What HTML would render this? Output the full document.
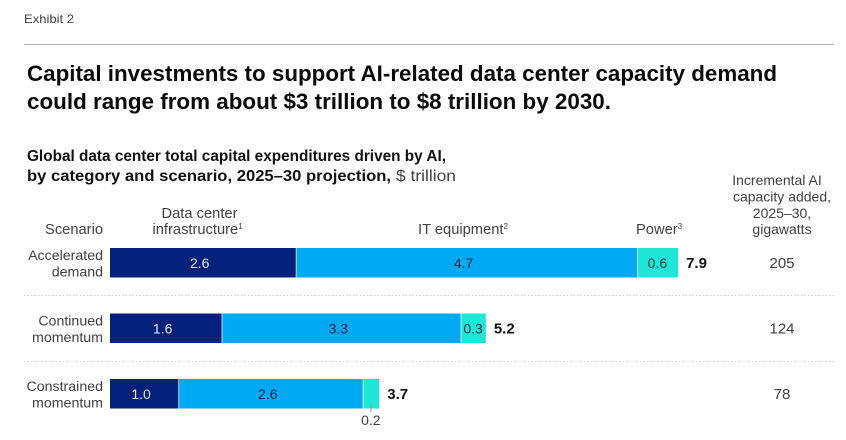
<!DOCTYPE html>
<html lang="en">
<head>
<meta charset="utf-8">
<title>Exhibit 2</title>
<style>
html,body{margin:0;padding:0;background:#fff;}
body{width:846px;height:440px;overflow:hidden;}
svg{display:block;font-family:"Liberation Sans",sans-serif;}
.h{font-size:14.7px;fill:#404040;}
.c{font-size:14px;fill:#404040;}
</style>
</head>
<body>
<svg id="chart" width="846" height="440" viewBox="0 0 846 440">
  <text x="24" y="23" font-size="12" fill="#404040" textLength="50" lengthAdjust="spacingAndGlyphs">Exhibit 2</text>
  <rect x="24" y="44" width="810" height="1" fill="#b4b4b4"/>
  <text x="27" y="81" font-size="22" font-weight="700" fill="#0a0a0a" textLength="750" lengthAdjust="spacingAndGlyphs">Capital investments to support AI-related data center capacity demand</text>
  <text x="27" y="109" font-size="22" font-weight="700" fill="#0a0a0a" textLength="584" lengthAdjust="spacingAndGlyphs">could range from about $3 trillion to $8 trillion by 2030.</text>
  <text x="27" y="161" font-size="16" font-weight="700" fill="#111" textLength="419" lengthAdjust="spacingAndGlyphs">Global data center total capital expenditures driven by AI,</text>
  <text x="27" y="181" font-size="16" font-weight="700" fill="#111" textLength="364" lengthAdjust="spacingAndGlyphs">by category and scenario, 2025–30 projection,</text>
  <text x="396" y="181" font-size="16" fill="#404040" textLength="60" lengthAdjust="spacingAndGlyphs">$ trillion</text>

  <text class="h" x="103" y="234" text-anchor="end">Scenario</text>
  <text class="h" x="199.5" y="218" text-anchor="middle">Data center</text>
  <text class="h" x="152.5" y="234">infrastructure<tspan font-size="8" dy="-5">1</tspan></text>
  <text class="h" x="418" y="234">IT equipment<tspan font-size="8" dy="-5">2</tspan></text>
  <text class="h" x="636" y="234">Power<tspan font-size="8" dy="-5">3</tspan></text>

  <text class="c" x="777" y="185" text-anchor="middle">Incremental AI</text>
  <text class="c" x="782" y="201.5" text-anchor="middle">capacity added,</text>
  <text class="c" x="782" y="218" text-anchor="middle">2025–30,</text>
  <text class="c" x="782" y="234" text-anchor="middle">gigawatts</text>

  <line x1="24" y1="295.5" x2="834" y2="295.5" stroke="#cfcfcf" stroke-dasharray="1.5 2"/>
  <line x1="24" y1="361.5" x2="834" y2="361.5" stroke="#cfcfcf" stroke-dasharray="1.5 2"/>
  <g id="bars"></g>
</svg>
<script>
var scenarioLine1 = ["Accelerated", "Continued", "Constrained"];
var scenarioLine2 = ["demand", "momentum", "momentum"];
var infrastructure = [2.59, 1.56, 0.96];
var itEquipment = [4.74, 3.32, 2.56];
var power = [0.56, 0.34, 0.22];
var capacity = [205, 124, 78];
var seriesNames = ["infrastructure", "it-equipment", "power"];

var NS = "http://www.w3.org/2000/svg";
var X0 = 110, UNIT = 72, ROW0 = 248, ROWSTEP = 65.5, BARH = 30;
var fills = ["#04217c", "#00a9f4", "#1fe6d8"];
var labelFills = ["#dfe6f5", "#0b2540", "#0b3a40"];
var group = document.getElementById("bars");

function xScale(v) { return X0 + v * UNIT; }
function rowTop(i) { return ROW0 + i * ROWSTEP; }
function make(tag, attrs, txt) {
  var el = document.createElementNS(NS, tag);
  for (var k in attrs) el.setAttribute(k, attrs[k]);
  if (txt !== undefined) el.textContent = txt;
  group.appendChild(el);
  return el;
}

scenarioLine1.forEach(function (name, i) {
  var top = rowTop(i);
  var vals = [infrastructure[i], itEquipment[i], power[i]];
  var el;

  el = make("text", {x: 103, y: top + 12, "text-anchor": "end", "font-size": 14.2, fill: "#404040"}, name);
  
  
  el = make("text", {x: 103, y: top + 28.5, "text-anchor": "end", "font-size": 14.2, fill: "#404040"}, scenarioLine2[i]);
  
  

  var cum = 0;
  vals.forEach(function (v, s) {
    var a = xScale(cum), b = xScale(cum + v);
    cum += v;
    var w = b - a;
    var gap = s < vals.length - 1 ? 0.7 : 0;
    var bar = make("rect", {x: a, y: top, width: Math.max(w - gap, 0), height: BARH - 0.5, fill: fills[s]});
    
    
    var label = v.toFixed(1);
    if (w >= 20) {
      var lx = w > 60 ? (a + b) / 2 - 3.5 : (a + b) / 2 - 0.5;
      var t = make("text", {x: lx, y: top + 20, "text-anchor": "middle", "font-size": 14, fill: labelFills[s]}, label);
      
      
    } else {
      var mid = (a + b) / 2 - 0.5;
      var tick = make("line", {x1: mid, y1: top + 25, x2: mid, y2: top + 33, stroke: "#999", "stroke-width": 1});
      
      
      var o = make("text", {x: mid, y: top + 46, "text-anchor": "middle", "font-size": 14, fill: "#404040"}, label);
      
      
    }
  });

  var total = make("text", {x: xScale(cum) + 8, y: top + 20, "font-size": 15, "font-weight": 700, fill: "#111"}, cum.toFixed(1));
  
  

  var cap = make("text", {x: 782, y: top + 20, "text-anchor": "middle", "font-size": 15, fill: "#404040"}, capacity[i]);
  
  
});
</script>
</body>
</html>
